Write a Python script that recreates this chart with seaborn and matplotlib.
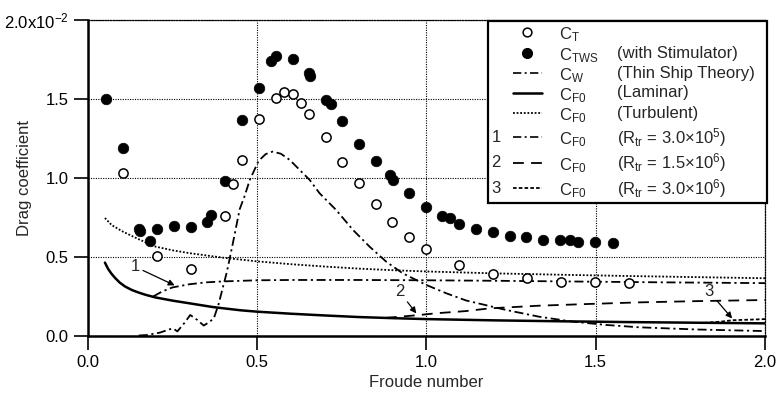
import matplotlib
matplotlib.use("Agg")
import matplotlib.pyplot as plt
from matplotlib.patches import Rectangle
import seaborn as sns
import numpy as np

# ---------------- data (drag coefficients in units of 1e-2) ----------------
ct_fn = [0.103, 0.204, 0.304, 0.404, 0.429, 0.455, 0.504, 0.555, 0.579, 0.605,
         0.630, 0.654, 0.703, 0.751, 0.800, 0.852, 0.898, 0.948, 0.998, 1.095,
         1.197, 1.297, 1.396, 1.499, 1.597]
ct_val = [1.032, 0.502, 0.421, 0.758, 0.960, 1.113, 1.373, 1.504, 1.542, 1.529,
          1.472, 1.403, 1.257, 1.102, 0.965, 0.832, 0.718, 0.627, 0.549, 0.444,
          0.388, 0.363, 0.341, 0.337, 0.331]

ctws_fn = [0.052, 0.103, 0.152, 0.154, 0.182, 0.204, 0.253, 0.304, 0.353, 0.363,
           0.404, 0.455, 0.504, 0.540, 0.555, 0.605, 0.654, 0.655, 0.703, 0.717,
           0.751, 0.800, 0.852, 0.893, 0.900, 0.948, 0.998, 1.045, 1.068, 1.095,
           1.147, 1.196, 1.247, 1.295, 1.345, 1.395, 1.425, 1.449, 1.499, 1.550]
ctws_val = [1.500, 1.187, 0.672, 0.660, 0.598, 0.672, 0.697, 0.689, 0.722, 0.764,
            0.977, 1.367, 1.571, 1.739, 1.772, 1.751, 1.665, 1.648, 1.495, 1.468,
            1.360, 1.215, 1.104, 1.018, 0.986, 0.901, 0.817, 0.759, 0.742, 0.708,
            0.677, 0.654, 0.633, 0.623, 0.606, 0.606, 0.606, 0.595, 0.593, 0.589]

cw_fn = [0.150, 0.173, 0.212, 0.242, 0.252, 0.264, 0.285, 0.302, 0.322, 0.342,
         0.360, 0.372, 0.386, 0.399, 0.410, 0.428, 0.448, 0.462, 0.478, 0.504,
         0.525, 0.546, 0.570, 0.596, 0.635, 0.655, 0.684, 0.733, 0.783, 0.832,
         0.881, 0.930, 1.000, 1.058, 1.117, 1.235, 1.333, 1.432, 1.530, 1.628,
         1.800, 2.000]
cw_val = [0.000, 0.003, 0.018, 0.040, 0.044, 0.026, 0.080, 0.130, 0.100, 0.063,
          0.088, 0.110, 0.200, 0.310, 0.400, 0.585, 0.800, 0.880, 0.986, 1.107,
          1.150, 1.166, 1.152, 1.113, 1.029, 0.986, 0.902, 0.796, 0.669, 0.563,
          0.468, 0.394, 0.320, 0.268, 0.222, 0.162, 0.119, 0.088, 0.067, 0.052,
          0.038, 0.028]

lam_fn = [0.05, 0.06, 0.07, 0.08, 0.094, 0.11, 0.13, 0.15, 0.17, 0.20, 0.25,
          0.30, 0.37, 0.45, 0.50, 0.60, 0.70, 0.80, 0.90, 1.00, 1.20, 1.40,
          1.60, 1.80, 2.00]
lam_val = [0.462, 0.420, 0.390, 0.365, 0.335, 0.310, 0.288, 0.272, 0.258, 0.241,
           0.221, 0.204, 0.180, 0.160, 0.151, 0.138, 0.127, 0.117, 0.110, 0.104,
           0.096, 0.090, 0.085, 0.081, 0.077]

turb_fn = [0.05, 0.07, 0.10, 0.124, 0.15, 0.20, 0.25, 0.30, 0.40, 0.50, 0.60,
           0.70, 0.80, 0.90, 1.00, 1.20, 1.40, 1.60, 1.80, 2.00]
turb_val = [0.745, 0.700, 0.662, 0.637, 0.610, 0.563, 0.540, 0.522, 0.493, 0.470,
            0.452, 0.437, 0.424, 0.414, 0.406, 0.394, 0.385, 0.377, 0.370, 0.363]

tr1_fn = [0.193, 0.22, 0.25, 0.30, 0.35, 0.40, 0.50, 0.60, 0.80, 1.00, 1.20,
          1.50, 1.70, 2.00]
tr1_val = [0.248, 0.280, 0.305, 0.325, 0.337, 0.343, 0.350, 0.352, 0.352, 0.350,
           0.347, 0.341, 0.337, 0.332]

tr2_fn = [0.88, 0.92, 0.979, 1.029, 1.117, 1.186, 1.333, 1.481, 1.628, 1.80, 2.00]
tr2_val = [0.112, 0.119, 0.130, 0.141, 0.155, 0.172, 0.189, 0.200, 0.210, 0.218,
           0.225]

tr3_fn = [1.82, 1.87, 1.905, 1.95, 2.00]
tr3_val = [0.080, 0.088, 0.097, 0.100, 0.104]

x_ticks = [0.0, 0.5, 1.0, 1.5, 2.0]
x_ticklabels = ["0.0", "0.5", "1.0", "1.5", "2.0"]
y_ticks = [0.0, 0.5, 1.0, 1.5, 2.0]
y_ticklabels = ["0.0", "0.5", "1.0", "1.5", "2.0x10$^{-2}$"]

# ---------------- style ----------------
sns.set_style("ticks")
plt.rcParams["font.family"] = ["Liberation Sans", "DejaVu Sans"]
plt.rcParams["mathtext.fontset"] = "custom"
plt.rcParams["mathtext.rm"] = "Liberation Sans"
plt.rcParams["mathtext.it"] = "Liberation Sans:italic"
plt.rcParams["mathtext.default"] = "regular"

FS = 12

fig = plt.figure(figsize=(7.76, 3.97), dpi=100)
ax = fig.add_axes([0.1134, 0.1549, 0.8724, 0.7947])

K = "black"
DASHDOT = (0, (5, 2, 1.2, 2))
DOT = (0, (1, 1))
DASH = (0, (6, 4))
DOT3 = (0, (2, 1.2))

sns.lineplot(x=turb_fn, y=turb_val, ax=ax, color=K, lw=1.3, linestyle=DOT,
             sort=False, estimator=None)
sns.lineplot(x=lam_fn, y=lam_val, ax=ax, color=K, lw=1.8, linestyle="-",
             sort=False, estimator=None)
sns.lineplot(x=cw_fn, y=cw_val, ax=ax, color=K, lw=1.3, linestyle=DASHDOT,
             sort=False, estimator=None)
sns.lineplot(x=tr1_fn, y=tr1_val, ax=ax, color=K, lw=1.3, linestyle=DASHDOT,
             sort=False, estimator=None)
sns.lineplot(x=tr2_fn, y=tr2_val, ax=ax, color=K, lw=1.3, linestyle=DASH,
             sort=False, estimator=None)
sns.lineplot(x=tr3_fn, y=tr3_val, ax=ax, color=K, lw=1.3, linestyle=DOT3,
             sort=False, estimator=None)

sns.scatterplot(x=ctws_fn, y=ctws_val, ax=ax, color=K, edgecolor=K, s=58,
                marker="o", linewidth=0.5, zorder=4)
sns.scatterplot(x=ct_fn, y=ct_val, ax=ax, color="white", edgecolor=K, s=44,
                marker="o", linewidth=1.1, zorder=4)

# annotations with arrows
arrow = dict(arrowstyle="-|>", color=K, lw=0.9, shrinkA=0, shrinkB=0,
             mutation_scale=9)
ax.annotate("1", xy=(0.256, 0.318), xytext=(0.139, 0.436), fontsize=FS,
            ha="center", va="center", arrowprops=arrow)
ax.annotate("2", xy=(0.970, 0.140), xytext=(0.920, 0.278), fontsize=FS,
            ha="center", va="center", arrowprops=arrow)
ax.annotate("3", xy=(1.903, 0.108), xytext=(1.835, 0.278), fontsize=FS,
            ha="center", va="center", arrowprops=arrow)

# axes
ax.set_xlim(0, 2.0)
ax.set_ylim(0, 2.0)
ax.set_xticks(x_ticks)
ax.set_xticklabels(x_ticklabels)
ax.set_yticks(y_ticks)
ax.set_yticklabels(y_ticklabels)
ax.tick_params(direction="out", length=10, width=1.2, labelsize=FS,
               colors=K, pad=4)
ax.set_xlabel("Froude number", fontsize=FS)
ax.set_ylabel("Drag coefficient", fontsize=FS)
ax.xaxis.set_label_coords(0.5, -0.125)
ax.yaxis.set_label_coords(-0.083, 0.5)
ax.grid(True, color=K, linestyle=(0, (1, 1.2)), lw=0.8)
for s in ["left", "bottom"]:
    ax.spines[s].set_linewidth(1.8)
    ax.spines[s].set_color(K)
for s in ["top", "right"]:
    ax.spines[s].set_linewidth(0.9)
    ax.spines[s].set_linestyle((0, (1, 1.2)))
    ax.spines[s].set_color(K)

# legend (drawn in axes coordinates)
tr = ax.transAxes
ax.add_patch(Rectangle((0.591, 0.42), 0.412, 0.577, transform=tr,
                       facecolor="white", edgecolor=K, lw=1.6, zorder=6,
                       clip_on=False))
rows = [0.962, 0.895, 0.832, 0.769, 0.705, 0.629, 0.547, 0.467]
cnames = ["C$_{T}$", "C$_{TWS}$", "C$_{W}$", "C$_{F0}$", "C$_{F0}$",
          "C$_{F0}$", "C$_{F0}$", "C$_{F0}$"]
descs = ["", "(with Stimulator)", "(Thin Ship Theory)", "(Laminar)",
         "(Turbulent)", "(R$_{tr}$ = 3.0\u00d710$^{5}$)",
         "(R$_{tr}$ = 1.5\u00d710$^{6}$)", "(R$_{tr}$ = 3.0\u00d710$^{6}$)"]
styles = [None, None, DASHDOT, "-", DOT, DASHDOT, DASH, DOT3]
widths = [0, 0, 1.2, 1.8, 1.3, 1.2, 1.3, 1.3]
nums = ["", "", "", "", "", "1", "2", "3"]
for i, yy in enumerate(rows):
    if i == 0:
        ax.plot([0.648], [yy], "o", ms=6.3, mfc="white", mec=K, mew=1.1,
                transform=tr, zorder=7, clip_on=False)
    elif i == 1:
        ax.plot([0.648], [yy], "o", ms=7.0, mfc=K, mec=K, transform=tr,
                zorder=7, clip_on=False)
    else:
        ax.plot([0.628, 0.670], [yy, yy], color=K, lw=widths[i],
                linestyle=styles[i], transform=tr, zorder=7, clip_on=False)
    ax.text(0.696, yy - 0.008, cnames[i], transform=tr, fontsize=FS,
            ha="left", va="center", zorder=8)
    if descs[i]:
        ax.text(0.781, yy, descs[i], transform=tr, fontsize=FS, ha="left",
                va="center", zorder=8)
    if nums[i]:
        ax.text(0.596, yy, nums[i], transform=tr, fontsize=FS, ha="left",
                va="center", zorder=8)

fig.savefig("out.png", dpi=100)
